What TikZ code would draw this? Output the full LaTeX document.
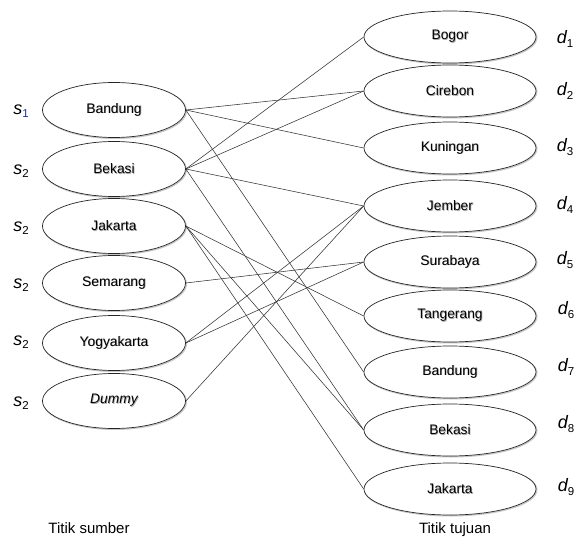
\documentclass[tikz,border=0pt]{standalone}
\usepackage{fontspec}
\setmainfont{Liberation Sans}
\usetikzlibrary{shapes.geometric}
\newcommand\myidx[2]{#1\raisebox{-0.35ex}{\upshape\fontsize{11.5}{12}\selectfont #2}}
\newcommand\tsh[1]{\makebox[0pt][l]{\hspace{0.7pt}\raisebox{-0.7pt}{\textcolor{black!35}{#1}}}#1}
\begin{document}
\begin{tikzpicture}[x=1pt,y=-1pt,
  place/.style={ellipse, draw=black!85, line width=0.7pt, fill=white, inner sep=0pt,
    font=\fontsize{13.8}{16}\selectfont,
    preaction={draw=black!22, line width=1.4pt, transform canvas={shift={(0.8pt,-0.8pt)}}}},
  src/.style={place, minimum width=143pt, minimum height=55pt},
  dst/.style={place, minimum width=172pt, minimum height=52pt},
  lbl/.style={font=\fontsize{18}{20}\selectfont\itshape, inner sep=0pt},
  capt/.style={font=\fontsize{15}{18}\selectfont, inner sep=0pt},
  link/.style={draw=black!80, line width=0.55pt}]
\useasboundingbox (0,0) rectangle (576,538);

% source nodes
\node[src] (s1) at (114,110) {\tsh{Bandung}};
\node[src] (s2) at (114,169) {\tsh{Bekasi}};
\node[src] (s3) at (114,226) {\tsh{Jakarta}};
\node[src] (s4) at (114,283) {\tsh{Semarang}};
\node[src] (s5) at (114,343) {\tsh{Yogyakarta}};
\node[src] (s6) at (114,401) {\itshape\tsh{Dummy}};

% destination nodes
\node[dst] (d1) at (450,37) {\tsh{Bogor}};
\node[dst] (d2) at (450,91) {\tsh{Cirebon}};
\node[dst] (d3) at (450,148) {\tsh{Kuningan}};
\node[dst] (d4) at (450,206) {\tsh{Jember}};
\node[dst] (d5) at (450,262) {\tsh{Surabaya}};
\node[dst] (d6) at (450,316) {\tsh{Tangerang}};
\node[dst] (d7) at (450,372) {\tsh{Bandung}};
\node[dst] (d8) at (450,430) {\tsh{Bekasi}};
\node[dst] (d9) at (450,489) {\tsh{Jakarta}};

% side labels
\node[lbl] (ls1) at (21,111) {\myidx{s}{\textcolor[rgb]{0.1,0.2,0.55}{1}}};
\node[lbl] (ls2) at (21,171) {\myidx{s}{2}};
\node[lbl] (ls3) at (21,228) {\myidx{s}{2}};
\node[lbl] (ls4) at (21,285) {\myidx{s}{2}};
\node[lbl] (ls5) at (21,342) {\myidx{s}{2}};
\node[lbl] (ls6) at (21,403) {\myidx{s}{2}};

\node[lbl] (ld1) at (565,39) {\myidx{d}{1}};
\node[lbl] (ld2) at (565,91) {\myidx{d}{2}};
\node[lbl] (ld3) at (565,147) {\myidx{d}{3}};
\node[lbl] (ld4) at (565,205) {\myidx{d}{4}};
\node[lbl] (ld5) at (565,260) {\myidx{d}{5}};
\node[lbl] (ld6) at (566,310) {\myidx{d}{6}};
\node[lbl] (ld7) at (566,367) {\myidx{d}{7}};
\node[lbl] (ld8) at (566,424) {\myidx{d}{8}};
\node[lbl] (ld9) at (566,487) {\myidx{d}{9}};

\node[capt] (cs) at (89,528) {Titik sumber};
\node[capt] (ct) at (455,530) {Titik tujuan};

% connectors
\draw[link] (s1.east) -- (d2.west);
\draw[link] (s1.east) -- (d3.west);
\draw[link] (s1.east) -- (d7.west);
\draw[link] (s2.east) -- (d1.west);
\draw[link] (s2.east) -- (d2.west);
\draw[link] (s2.east) -- (d4.west);
\draw[link] (s2.east) -- (d8.west);
\draw[link] (s3.east) -- (d6.west);
\draw[link] (s3.east) -- (d8.west);
\draw[link] (s3.east) -- (d9.west);
\draw[link] (s4.east) -- (d5.west);
\draw[link] (s5.east) -- (d4.west);
\draw[link] (s5.east) -- (d5.west);
\draw[link] (s6.east) -- (d4.west);
\end{tikzpicture}
\end{document}
